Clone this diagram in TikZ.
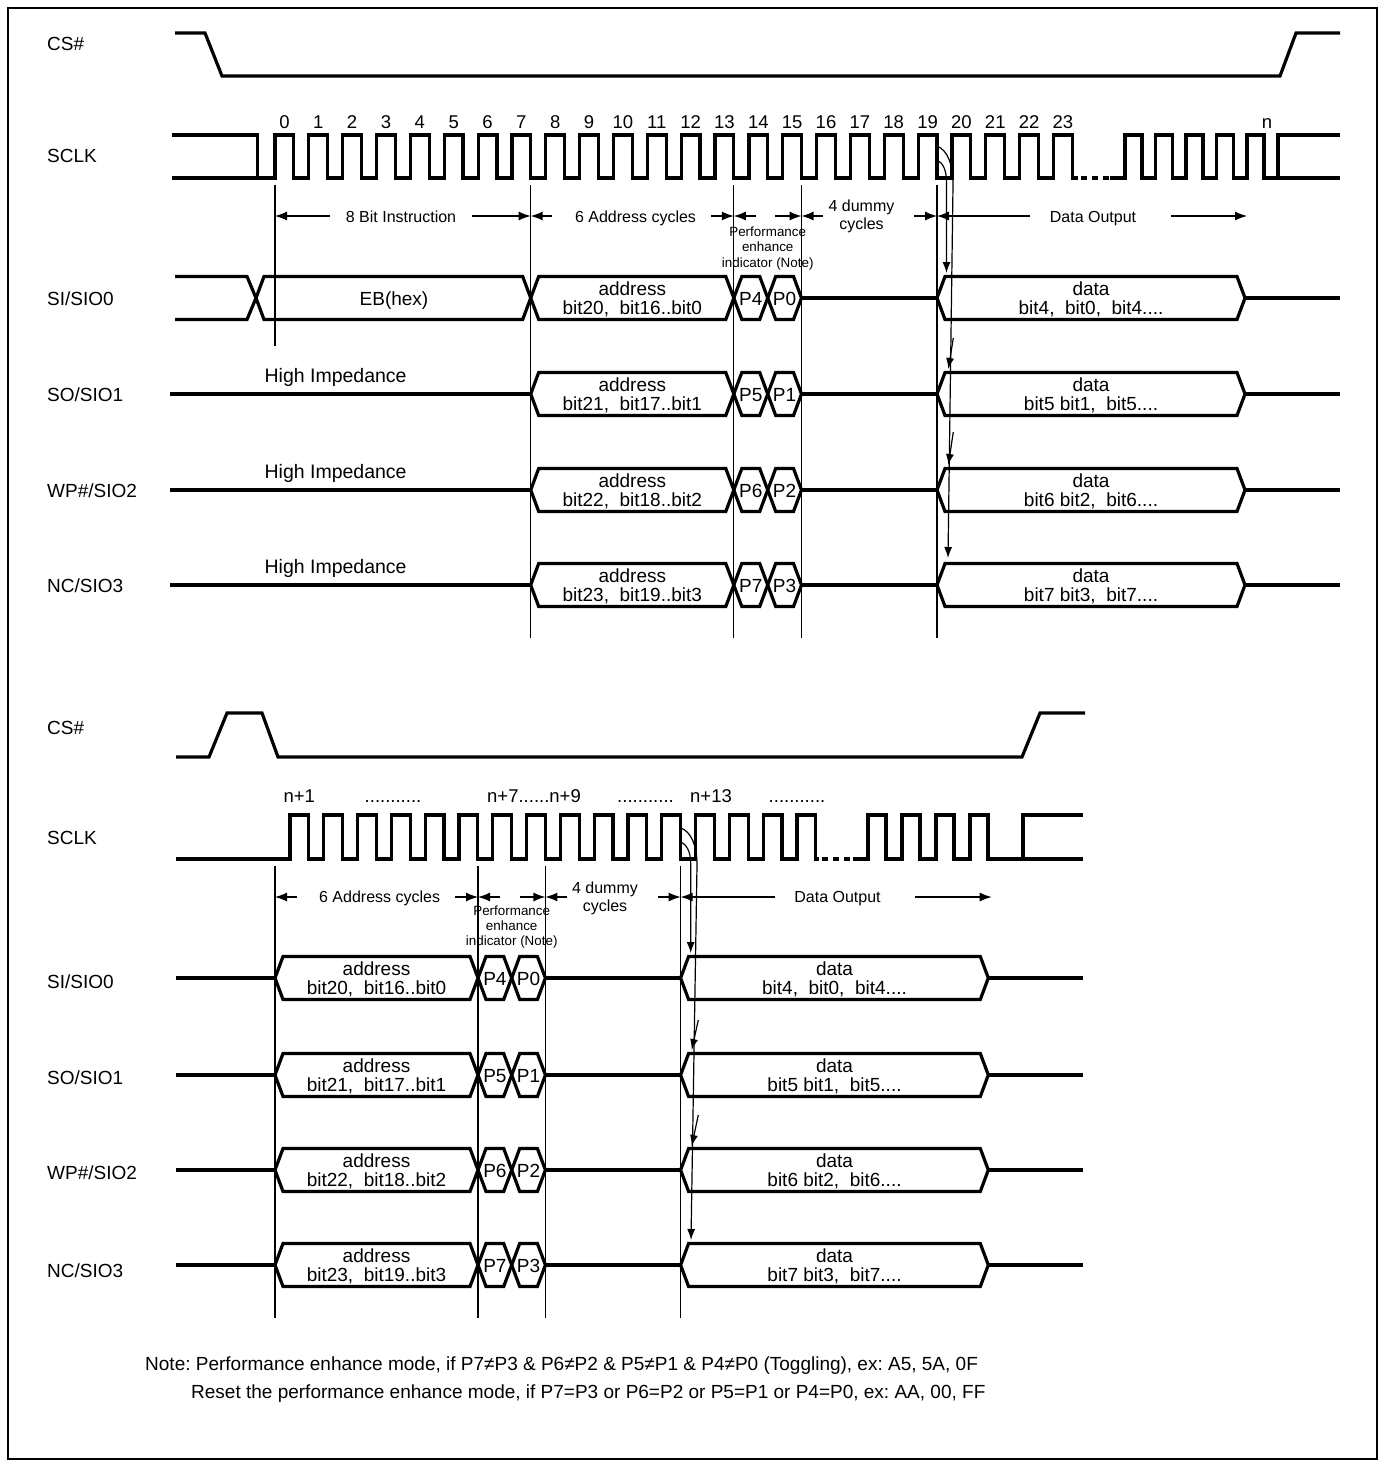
\documentclass[tikz,border=0pt]{standalone}
\usepackage{fontspec}
\setmainfont{Liberation Sans}
\usetikzlibrary{arrows.meta}
\frenchspacing
\newcommand{\hexbox}[3]{\draw[sig] (#1,#3) -- ({#1+8},{#3-21.5}) -- ({#2-8},{#3-21.5}) -- (#2,#3) -- ({#2-8},{#3+21.5}) -- ({#1+8},{#3+21.5}) -- cycle;}
\begin{document}
\begin{tikzpicture}[x=1pt,y=-1pt,
 sig/.style={line width=3.2pt},
 ref/.style={line width=1.2pt},
 dimtip/.style={line width=1.2pt,-{Latex[length=12pt,width=9pt]}},
 curvtip/.style={line width=1.2pt,-{Latex[length=11pt,width=8pt]}},
 lbl/.style={anchor=base west,inner sep=0pt,font=\fontsize{19}{22}\selectfont},
 num/.style={anchor=base,inner sep=0pt,font=\fontsize{18.5}{22}\selectfont},
 btxt/.style={anchor=base,inner sep=0pt,font=\fontsize{19}{22}\selectfont},
 hitxt/.style={anchor=base,inner sep=0pt,font=\fontsize{19.5}{22}\selectfont},
 dtxt/.style={anchor=base,inner sep=0pt,font=\fontsize{16}{19}\selectfont},
 ptxt/.style={anchor=base,inner sep=0pt,font=\fontsize{13.4}{16}\selectfont},
 ntxt/.style={anchor=base west,inner sep=0pt,font=\fontsize{19}{22}\selectfont}]
\useasboundingbox (0,0) rectangle (1385,1467);
\draw[line width=1.5pt] (8,8) rectangle (1377,1459);

% ================= TOP =================
\node[lbl] (tcs) at (47,50) {CS\#};
\node[lbl] (tsclk) at (47,162) {SCLK};
\node[lbl] (tsi) at (47,305) {SI/SIO0};
\node[lbl] (tso) at (47,401) {SO/SIO1};
\node[lbl] (twp) at (47,497) {WP\#/SIO2};
\node[lbl] (tnc) at (47,592) {NC/SIO3};

% CS#
\draw[sig] (175,33) -- (205,33) -- (222,76) -- (1280,76) -- (1296,33) -- (1340,33);

% SCLK
\draw[sig] (172,135) -- (257.6,135) -- (257.6,178);
\draw[sig] (172,178) \foreach \k in {0,...,23}{ -- ({275+33.85*\k},178) -- ({275+33.85*\k},135) -- ({293.8+33.85*\k},135) -- ({293.8+33.85*\k},178)} -- (1078,178);
\foreach \a in {1081,1092,1103} \draw[sig] (\a,178) -- ++(6,0);
\draw[sig] (1110,178) \foreach \k in {0,...,4}{ -- ({1125+30.5*\k},178) -- ({1125+30.5*\k},135) -- ({1142+30.5*\k},135) -- ({1142+30.5*\k},178)} -- (1340,178);
\draw[sig] (1278,178) -- (1278,135) -- (1340,135);
\foreach \k in {0,...,23} \node[num] (tn\k) at ({284.4+33.85*\k},128) {\k};
\node[num] (tnn) at (1267,128) {n};

% reference lines
\draw[ref] (275,185) -- (275,346);
\foreach \x in {530.7,733.8,801.5,937} \draw[ref] (\x,185) -- (\x,638);

% dimension row
\draw[dimtip] (330,216) -- (275,216);
\node[dtxt] (t8b) at (401,222) {8 Bit Instruction};
\draw[dimtip] (472,216) -- (530.7,216);
\draw[dimtip] (552,216) -- (530.7,216);
\node[dtxt] (t6a) at (635.5,222) {6 Address cycles};
\draw[dimtip] (711,216) -- (733.8,216);
\draw[dimtip] (755.5,216) -- (733.8,216);
\draw[dimtip] (775,216) -- (801.5,216);
\draw[dimtip] (822.5,216) -- (801.5,216);
\node[dtxt] (t4d) at (861.5,211) {4 dummy};
\node[dtxt] (t4c) at (861.5,229) {cycles};
\draw[dimtip] (914,216) -- (937,216);
\draw[dimtip] (1030,216) -- (937,216);
\node[dtxt] (tdo) at (1093,222) {Data Output};
\draw[dimtip] (1171,216) -- (1247,216);
\node[ptxt] (tp1) at (767.7,236) {Performance};
\node[ptxt] (tp2) at (767.7,251.5) {enhance};
\node[ptxt] (tp3) at (767.7,267) {indicator (Note)};

% SI/SIO0
\draw[sig] (175,276.5) -- (247,276.5) -- (256,298) -- (247,319.5) -- (175,319.5);
\hexbox{256}{530.7}{298}
\hexbox{530.7}{733.8}{298}
\hexbox{733.8}{767.7}{298}
\hexbox{767.7}{801.5}{298}
\draw[sig] (801.5,298) -- (937,298);
\hexbox{937}{1245}{298}
\draw[sig] (1245,298) -- (1340,298);
\node[btxt] (teb) at (394,305) {EB(hex)};
\node[btxt] (tsia) at (632.3,295) {address};
\node[btxt] (tsib) at (632.3,314) {bit20,\ \ bit16..bit0};
\node[btxt] (tsp4) at (750.8,305) {P4};
\node[btxt] (tsp0) at (784.6,305) {P0};
\node[btxt] (tsid) at (1091,295) {data};
\node[btxt] (tsie) at (1091,314) {bit4,\ \ bit0,\ \ bit4....};

% SO, WP, NC
\foreach \y/\a/\b/\c/\d in {394/21/17/1/5, 490/22/18/2/6, 585/23/19/3/7}{
  \draw[sig] (170,\y) -- (530.7,\y);
  \hexbox{530.7}{733.8}{\y}
  \hexbox{733.8}{767.7}{\y}
  \hexbox{767.7}{801.5}{\y}
  \draw[sig] (801.5,\y) -- (937,\y);
  \hexbox{937}{1245}{\y}
  \draw[sig] (1245,\y) -- (1340,\y);
  \node[hitxt] (thi\y) at (335.6,{\y-11.3}) {High Impedance};
  \node[btxt] (ta\y) at (632.3,{\y-3}) {address};
  \node[btxt] (tb\y) at (632.3,{\y+16}) {bit\a,\ \ bit\b..bit\c};
  \node[btxt] (tp\y) at (750.8,{\y+7}) {P\d};
  \node[btxt] (tq\y) at (784.6,{\y+7}) {P\c};
  \node[btxt] (td\y) at (1091,{\y-3}) {data};
  \node[btxt] (te\y) at (1091,{\y+16}) {bit\d\ bit\c,\ \ bit\d....};
}

% clock-to-data arrows
\draw[curvtip] (937,146) .. controls (947,150) and (953,163) .. (953,185) -- (948,558);
\draw[curvtip] (937,160) .. controls (943,163) and (946.5,170) .. (946.5,182) -- (946.5,273);
\draw[curvtip] (953.3,338) -- (948.3,369);
\draw[curvtip] (953.3,432) -- (948.3,465);

% ================= BOTTOM =================
\node[lbl] (bcs) at (47,734) {CS\#};
\node[lbl] (bsclk) at (47,844) {SCLK};
\node[lbl] (bsi) at (47,988) {SI/SIO0};
\node[lbl] (bso) at (47,1084) {SO/SIO1};
\node[lbl] (bwp) at (47,1179) {WP\#/SIO2};
\node[lbl] (bnc) at (47,1277) {NC/SIO3};

\draw[sig] (176,757) -- (209,757) -- (227,713) -- (262,713) -- (278,757) -- (1022,757) -- (1040,713) -- (1085,713);

\draw[sig] (176,859) \foreach \k in {0,...,15}{ -- ({290+33.8*\k},859) -- ({290+33.8*\k},815) -- ({308.8+33.8*\k},815) -- ({308.8+33.8*\k},859)} -- (819,859);
\foreach \a in {822,833,844} \draw[sig] (\a,859) -- ++(6,0);
\draw[sig] (853,859) \foreach \k in {0,...,3}{ -- ({868+34*\k},859) -- ({868+34*\k},815) -- ({886+34*\k},815) -- ({886+34*\k},859)} -- (1083,859);
\draw[sig] (1023,859) -- (1023,815) -- (1083,815);

\node[num] (bn1) at (299.3,802.5) {n+1};
\node[num] (bd1) at (393,802.5) {...........};
\node[num,anchor=base west] (bn7) at (487,802.5) {n+7......n+9};
\node[num] (bd2) at (645.5,802.5) {...........};
\node[num] (bn13) at (711,802.5) {n+13};
\node[num] (bd3) at (797,802.5) {...........};

\foreach \x in {275,478,545.4,680.6} \draw[ref] (\x,866) -- (\x,1318);

\draw[dimtip] (297,897) -- (275,897);
\node[dtxt] (b6a) at (379.6,902.5) {6 Address cycles};
\draw[dimtip] (455,897) -- (478,897);
\draw[dimtip] (500,897) -- (478,897);
\draw[dimtip] (520,897) -- (545.4,897);
\draw[dimtip] (567,897) -- (545.4,897);
\node[dtxt] (b4d) at (605,893) {4 dummy};
\node[dtxt] (b4c) at (605,911) {cycles};
\draw[dimtip] (658,897) -- (680.6,897);
\draw[dimtip] (775,897) -- (680.6,897);
\node[dtxt] (bdo) at (837.5,902.5) {Data Output};
\draw[dimtip] (915,897) -- (991.7,897);
\node[ptxt] (bp1) at (511.7,915) {Performance};
\node[ptxt] (bp2) at (511.7,930) {enhance};
\node[ptxt] (bp3) at (511.7,945) {indicator (Note)};

\foreach \y/\a/\b/\c/\d in {978/20/16/0/4, 1075/21/17/1/5, 1170/22/18/2/6, 1265/23/19/3/7}{
  \draw[sig] (176,\y) -- (275,\y);
  \hexbox{275}{478}{\y}
  \hexbox{478}{511.7}{\y}
  \hexbox{511.7}{545.4}{\y}
  \draw[sig] (545.4,\y) -- (680.6,\y);
  \hexbox{680.6}{988.3}{\y}
  \draw[sig] (988.3,\y) -- (1083,\y);
  \node[btxt] (ba\y) at (376.5,{\y-3}) {address};
  \node[btxt] (bb\y) at (376.5,{\y+16}) {bit\a,\ \ bit\b..bit\c};
  \node[btxt] (bp\y) at (494.9,{\y+7}) {P\d};
  \node[btxt] (bq\y) at (528.6,{\y+7}) {P\c};
  \node[btxt] (bd\y) at (834.5,{\y-3}) {data};
}
\node[btxt] (be978) at (834.5,994) {bit4,\ \ bit0,\ \ bit4....};
\node[btxt] (be1075) at (834.5,1091) {bit5\ bit1,\ \ bit5....};
\node[btxt] (be1170) at (834.5,1186) {bit6\ bit2,\ \ bit6....};
\node[btxt] (be1265) at (834.5,1281) {bit7\ bit3,\ \ bit7....};

\draw[curvtip] (681,828) .. controls (691,832) and (697,845) .. (697,865) -- (691,1240);
\draw[curvtip] (681,842) .. controls (687,845) and (690.7,852) .. (690.7,864) -- (690.7,953);
\draw[curvtip] (698.3,1020) -- (691.7,1050);
\draw[curvtip] (698.3,1115) -- (691.7,1146);

% note
\node[ntxt] (note1) at (145,1370) {Note: Performance enhance mode, if P7≠P3 \& P6≠P2 \& P5≠P1 \& P4≠P0 (Toggling), ex: A5, 5A, 0F};
\node[ntxt] (note2) at (191,1398) {Reset the performance enhance mode, if P7=P3 or P6=P2 or P5=P1 or P4=P0, ex: AA, 00, FF};
\end{tikzpicture}
\end{document}
